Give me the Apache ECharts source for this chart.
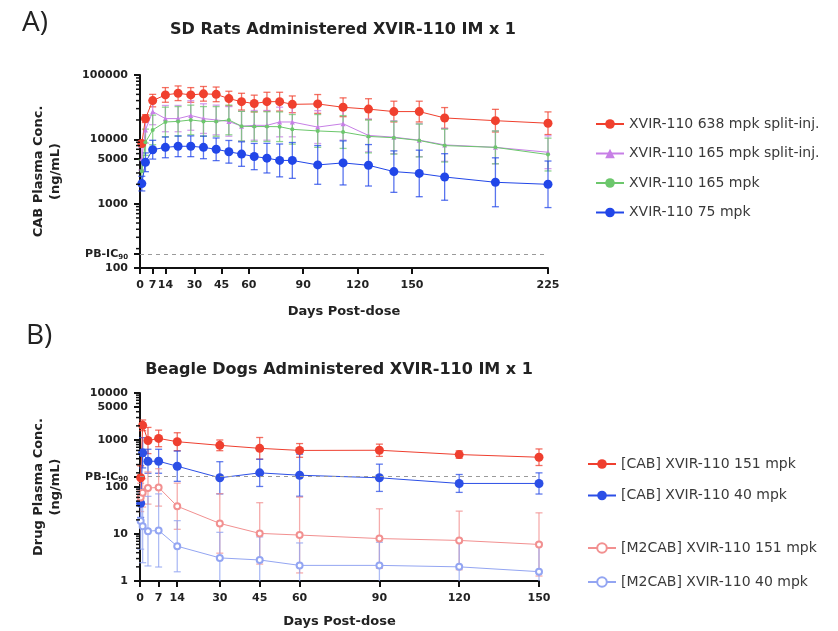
<!DOCTYPE html>
<html><head><meta charset="utf-8">
<script src="https://cdn.jsdelivr.net/npm/echarts@6/dist/echarts.min.js"></script>
<style>html,body{margin:0;padding:0;background:#fff}#c{width:838px;height:631px}</style>
</head><body><div id="c"></div>
<script>
// ---------- Panel A: SD rats ----------
const daysA = [1,3,7,14,21,28,35,42,49,56,63,70,77,84,98,112,126,140,154,168,196,225];
const rat638Split = [8600,21000,40000,49000,52000,49000,51000,50000,43000,38500,36000,38500,38500,35000,35500,31500,29500,27000,27000,21500,19500,17800];
const rat638SplitErr = [1.1,1.15,1.25,1.3,1.3,1.3,1.3,1.3,1.3,1.35,1.35,1.4,1.4,1.35,1.4,1.4,1.45,1.45,1.45,1.45,1.5,1.5];
const rat165Split = [5000,14000,27000,21000,21000,23500,21000,20000,19000,16000,16500,16500,18600,18600,15500,17500,11500,10800,9700,8200,7500,6300];
const rat165SplitErr = [1.5,1.6,1.6,1.6,1.6,1.7,1.7,1.7,1.7,1.7,1.7,1.7,1.7,1.7,1.8,1.8,1.8,1.8,1.8,1.8,1.8,1.8];
const rat165 = [3200,9000,14000,18600,19000,20000,19000,19000,20000,16000,15800,15800,15700,14300,13500,13000,11100,10600,9600,8000,7500,5800];
const rat165Err = [1.5,1.6,1.7,1.7,1.7,1.7,1.7,1.7,1.7,1.7,1.7,1.7,1.7,1.7,1.8,1.8,1.8,1.8,1.8,1.8,1.8,1.8];
const rat75 = [2050,4400,6900,7500,7800,7800,7500,7000,6400,5900,5400,5100,4700,4700,4000,4300,3950,3150,2950,2600,2150,2000];
const rat75Err = [1.3,1.4,1.4,1.45,1.45,1.45,1.5,1.5,1.5,1.55,1.6,1.7,1.8,1.9,2.0,2.2,2.1,2.1,2.3,2.3,2.4,2.3];
const xTicksA = [0,7,14,30,45,60,90,120,150,225];
const yLabelsA = [100,166,1000,5000,10000,100000];
const yMinorA = [200,300,400,500,600,700,800,900,2000,3000,4000,6000,7000,8000,9000,20000,30000,40000,50000,60000,70000,80000,90000];

// ---------- Panel B: Beagle dogs ----------
const daysB = [0.25,1,3,7,14,30,45,60,90,120,150];
const dogCab151 = [157,2050,975,1080,920,770,665,600,605,490,430];
const dogCab151Err = [1.8,1.3,1.9,1.5,1.55,1.3,1.7,1.4,1.35,1.2,1.5];
const dogCab40 = [45,535,353,353,277,157,200,178,157,119,119];
const dogCab40Err = [2.0,2.1,1.8,1.8,2.1,2.2,1.95,2.8,1.95,1.55,1.68];
const dogM2151 = [60,75,95,98,39,16.8,10.3,9.5,8,7.3,6];
const dogM2151Err = [2,2,2.2,2.5,3.1,4.3,4.5,6.4,4.3,4.2,4.7];
const dogM240 = [19,14.7,11.5,11.9,5.5,3.1,2.8,2.15,2.15,2.0,1.58];
const dogM240Err = [4,6,5.5,6,3.5,3.5,3.1,3.0,3.1,3.8,4.1];
const xTicksB = [0,7,14,30,45,60,90,120,150];
const yLabelsB = [1,10,100,166,1000,5000,10000];
const yMinorB = [2,3,4,5,6,7,8,9,20,30,40,50,60,70,80,90,200,300,400,500,600,700,800,900,2000,3000,4000,6000,7000,8000,9000];

const pbic90 = 166;

const namesA = ['XVIR-110 638 mpk split-inj.','XVIR-110 165 mpk split-inj.','XVIR-110 165 mpk','XVIR-110 75 mpk'];
const namesB1 = ['[CAB] XVIR-110 151 mpk','[CAB] XVIR-110 40 mpk'];
const namesB2 = ['[M2CAB] XVIR-110 151 mpk','[M2CAB] XVIR-110 40 mpk'];

const C = {red:'#f0402e', purple:'#c77fe6', green:'#6cc76c', blue:'#2146e8',
           redB:'#ef3f2f', blueB:'#2c4fe6', lred:'#f29090', lblue:'#93a5f2'};

const tickFont = {fontFamily:'DejaVu Sans', fontWeight:'bold', fontSize:11, color:'#222'};
const nameFont = {fontFamily:'DejaVu Sans', fontWeight:'bold', fontSize:13, color:'#222', lineHeight:17};

function yLabelFmt(v){ return Math.abs(v-pbic90) < 1 ? '{a|PB-IC}{s|90}' : String(Math.round(v)); }
const rich = {a:{fontFamily:'DejaVu Sans', fontWeight:'bold', fontSize:11, color:'#222'},
              s:{fontFamily:'DejaVu Sans', fontWeight:'bold', fontSize:7, color:'#222', padding:[6,0,0,0]}};

function mainY(grid, min, max, labels, name){
  return {gridIndex:grid, type:'log', logBase:10, min, max, position:'left',
    name, nameLocation:'middle', nameGap:76, nameRotate:90, nameTextStyle:nameFont,
    axisLine:{show:true, lineStyle:{color:'#111', width:2}},
    axisTick:{show:true, length:6, customValues:labels, lineStyle:{color:'#111', width:2}},
    axisLabel:Object.assign({customValues:labels, formatter:yLabelFmt, rich, margin:12}, tickFont),
    splitLine:{show:false}, minorTick:{show:false}};
}
function mainX(grid, max, ticks, gap){
  return {gridIndex:grid, type:'value', min:0, max,
    name:'Days Post-dose', nameLocation:'middle', nameGap:gap, nameTextStyle:nameFont,
    axisLine:{show:true, onZero:false, lineStyle:{color:'#111', width:2}},
    axisTick:{show:true, length:6, customValues:ticks, lineStyle:{color:'#111', width:2}},
    axisLabel:Object.assign({customValues:ticks, margin:12}, tickFont),
    splitLine:{show:false}};
}

function lineS(name, xi, yi, days, vals, color, symbol, size, extra){
  return Object.assign({type:'line', name, xAxisIndex:xi, yAxisIndex:yi, z:3,
    data:days.map((d,i)=>[d, vals[i]]), symbol, symbolSize:size, showSymbol:true,
    lineStyle:{color, width:1}, itemStyle:{color, borderColor:color, borderWidth: symbol==='emptyCircle'?1.2:0},
    emphasis:{disabled:true}, animation:false}, extra||{});
}
function errS(name, xi, yi, days, vals, fac, color, yMin, yMax){
  return {type:'custom', name:name+'_err', xAxisIndex:xi, yAxisIndex:yi, z:2, silent:true, animation:false,
    encode:{x:0, y:1},
    data:days.map((d,i)=>[d, vals[i], fac[i]]),
    renderItem:(params, api)=>{
      const x = api.value(0), m = api.value(1), f = api.value(2);
      const hiV = m*f, loV = m/f;
      const hi = Math.min(hiV, yMax), lo = Math.max(loV, yMin);
      const p1 = api.coord([x, hi]), p2 = api.coord([x, lo]);
      const w = 3.5;
      const st = {stroke:color, lineWidth:1.3, opacity:0.75};
      const ch = [{type:'line', shape:{x1:p1[0],y1:p1[1],x2:p2[0],y2:p2[1]}, style:st}];
      if (hiV <= yMax) ch.push({type:'line', shape:{x1:p1[0]-w,y1:p1[1],x2:p1[0]+w,y2:p1[1]}, style:st});
      if (loV >= yMin) ch.push({type:'line', shape:{x1:p2[0]-w,y1:p2[1],x2:p2[0]+w,y2:p2[1]}, style:st});
      return {type:'group', children:ch};
    }};
}
// minor log ticks on the y axis, placed through the axis scale
function minorTicks(xi, yi, vals){
  return {type:'custom', name:'minor'+yi, xAxisIndex:xi, yAxisIndex:yi, z:4, silent:true, animation:false, clip:false,
    encode:{x:0, y:1},
    data:vals.map(v=>[0, v]),
    renderItem:(params, api)=>{
      const p = api.coord([api.value(0), api.value(1)]);
      return {type:'line', shape:{x1:p[0]-4, y1:p[1], x2:p[0], y2:p[1]}, style:{stroke:'#111', lineWidth:1.5}};
    }};
}
const pbLine = {silent:true, symbol:['none','none'], label:{show:false},
  lineStyle:{type:[4,4], color:'#9a9a9a', width:1}, data:[{yAxis:pbic90}], animation:false};

const legendText = {fontFamily:'DejaVu Sans', fontSize:14, color:'#3a3a3a'};

const option = {
  backgroundColor:'#fff',
  animation:false,
  grid:[
    {left:140, top:75, width:408, height:193},
    {left:140, top:393, width:399, height:189}
  ],
  xAxis:[ mainX(0, 225, xTicksA, 35), mainX(1, 150, xTicksB, 32) ],
  yAxis:[
    mainY(0, 100, 100000, yLabelsA, 'CAB Plasma Conc.\n(ng/mL)'),
    mainY(1, 1, 10000, yLabelsB, 'Drug Plasma Conc.\n(ng/mL)')
  ],
  legend:[
    {data:namesA, orient:'vertical', left:590, top:112, itemWidth:28, itemHeight:12, itemGap:15.5, textStyle:legendText, selectedMode:false},
    {data:namesB1, orient:'vertical', left:582, top:452, itemWidth:28, itemHeight:12, itemGap:17.5, textStyle:legendText, selectedMode:false},
    {data:namesB2, orient:'vertical', left:582, top:536, itemWidth:28, itemHeight:12, itemGap:20, textStyle:legendText, selectedMode:false}
  ],
  graphic:[
    {type:'text', x:22, y:9, style:{text:'A)', font:'28px "Open Sans"', fill:'#222'}},
    {type:'text', x:343, y:30, style:{text:'SD Rats Administered XVIR-110 IM x 1', font:'bold 16px "DejaVu Sans"', fill:'#222', textAlign:'center', textVerticalAlign:'middle'}},
    {type:'text', x:26, y:322, style:{text:'B)', font:'28px "Open Sans"', fill:'#222'}},
    {type:'text', x:339, y:370, style:{text:'Beagle Dogs Administered XVIR-110 IM x 1', font:'bold 16px "DejaVu Sans"', fill:'#222', textAlign:'center', textVerticalAlign:'middle'}}
  ],
  series:[
    minorTicks(0,0,yMinorA),
    errS(namesA[0],0,0,daysA,rat638Split,rat638SplitErr,C.red,100,100000),
    errS(namesA[1],0,0,daysA,rat165Split,rat165SplitErr,C.purple,100,100000),
    errS(namesA[2],0,0,daysA,rat165,rat165Err,C.green,100,100000),
    errS(namesA[3],0,0,daysA,rat75,rat75Err,C.blue,100,100000),
    lineS(namesA[0],0,0,daysA,rat638Split,C.red,'circle',9,{markLine:pbLine}),
    lineS(namesA[1],0,0,daysA,rat165Split,C.purple,'triangle',5),
    lineS(namesA[2],0,0,daysA,rat165,C.green,'circle',4),
    lineS(namesA[3],0,0,daysA,rat75,C.blue,'circle',9),

    minorTicks(1,1,yMinorB),
    errS(namesB1[0],1,1,daysB,dogCab151,dogCab151Err,C.redB,1,10000),
    errS(namesB1[1],1,1,daysB,dogCab40,dogCab40Err,C.blueB,1,10000),
    errS(namesB2[0],1,1,daysB,dogM2151,dogM2151Err,C.lred,1,10000),
    errS(namesB2[1],1,1,daysB,dogM240,dogM240Err,C.lblue,1,10000),
    lineS(namesB1[0],1,1,daysB,dogCab151,C.redB,'circle',9,{markLine:pbLine}),
    lineS(namesB1[1],1,1,daysB,dogCab40,C.blueB,'circle',9),
    lineS(namesB2[0],1,1,daysB,dogM2151,C.lred,'emptyCircle',6),
    lineS(namesB2[1],1,1,daysB,dogM240,C.lblue,'emptyCircle',6)
  ]
};
const chart = echarts.init(document.getElementById('c'), null, {renderer:'canvas'});
chart.setOption(option);
</script></body></html>
